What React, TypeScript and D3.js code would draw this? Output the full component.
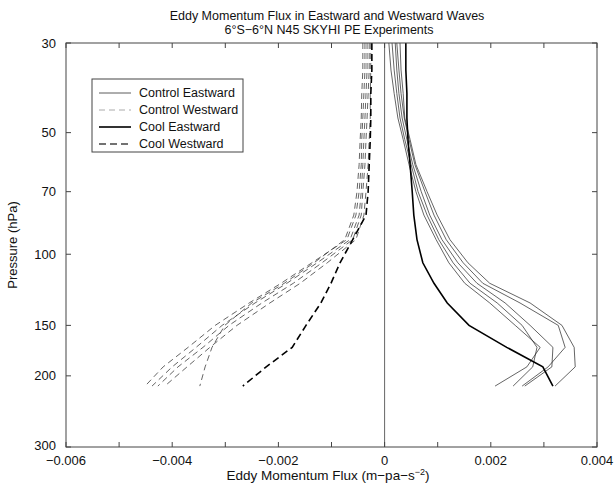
import React from "react";
import * as d3 from "d3";

// pressure levels (hPa)
const pressure = [30, 35, 40, 46, 52, 60, 70, 80, 92, 105, 118, 132, 150, 170, 190, 212];

// Control runs (5 members)
const controlEastward = [
  [0.00029, 0.00031, 0.00035, 0.00038, 0.00048, 0.00059, 0.0008, 0.00099, 0.00123, 0.00157, 0.00198, 0.00274, 0.00334, 0.00357, 0.00359, 0.00321],
  [0.00023, 0.00027, 0.00031, 0.00037, 0.00046, 0.00057, 0.00076, 0.00093, 0.00116, 0.00148, 0.00185, 0.00255, 0.00327, 0.0034, 0.00308, 0.00259],
  [0.0002, 0.00023, 0.00027, 0.00033, 0.00042, 0.00053, 0.00069, 0.00085, 0.00108, 0.00138, 0.00174, 0.00227, 0.00274, 0.00317, 0.00315, 0.00264],
  [0.00014, 0.00018, 0.00023, 0.00029, 0.00038, 0.0005, 0.00063, 0.0008, 0.00102, 0.00129, 0.00161, 0.00212, 0.00259, 0.00287, 0.00279, 0.00242],
  [0.00008, 0.00012, 0.00018, 0.00025, 0.00035, 0.00046, 0.00059, 0.00074, 0.00097, 0.00121, 0.00151, 0.00198, 0.00246, 0.00293, 0.00268, 0.00208],
];

const controlWestward = [
  [-0.00026, -0.00026, -0.00027, -0.00027, -0.00029, -0.00031, -0.00035, -0.00039, -0.00054, -0.00108, -0.00159, -0.00216, -0.00278, -0.00329, -0.00372, -0.00414],
  [-0.00029, -0.00029, -0.00031, -0.00033, -0.00035, -0.00037, -0.00041, -0.00044, -0.0006, -0.00118, -0.00172, -0.00231, -0.00293, -0.00342, -0.00389, -0.00427],
  [-0.00033, -0.00033, -0.00035, -0.00037, -0.00039, -0.00041, -0.00044, -0.00048, -0.00065, -0.00127, -0.00184, -0.00244, -0.00306, -0.00355, -0.004, -0.00438],
  [-0.00037, -0.00037, -0.00039, -0.00041, -0.00043, -0.00044, -0.00048, -0.00054, -0.00071, -0.00137, -0.00195, -0.00255, -0.00319, -0.0037, -0.00417, -0.00451],
  [-0.00041, -0.00041, -0.00043, -0.00044, -0.00046, -0.00048, -0.00052, -0.00058, -0.00075, -0.00133, -0.00189, -0.0025, -0.00301, -0.00325, -0.00338, -0.00348],
];

const coolEastward = [0.0004, 0.0004, 0.00042, 0.00042, 0.00044, 0.00048, 0.00052, 0.00055, 0.00061, 0.00072, 0.00093, 0.00118, 0.00159, 0.0023, 0.00298, 0.00317];
const coolWestward = [-0.00024, -0.00024, -0.00026, -0.00026, -0.00027, -0.00029, -0.00031, -0.00035, -0.0006, -0.00084, -0.00101, -0.0012, -0.00148, -0.00174, -0.00223, -0.00267];

const xTicks = [-0.006, -0.005, -0.004, -0.003, -0.002, -0.001, 0, 0.001, 0.002, 0.003, 0.004];
const xLabels = [-0.006, -0.004, -0.002, 0, 0.002, 0.004];
const yTicks = [30, 50, 70, 100, 150, 200, 300];

const legendItems = ["Control Eastward", "Control Westward", "Cool Eastward", "Cool Westward"];

const font = "'Liberation Sans', Arial, Helvetica, sans-serif";

export default function App() {
  const left = 66, right = 597, top = 43, bottom = 447;
  const x = d3.scaleLinear().domain([-0.006, 0.004]).range([left, right]);
  const y = d3.scaleLog().domain([30, 300]).range([top, bottom]);

  const line = d3
    .line<number>()
    .x((d) => x(d))
    .y((d, i) => y(pressure[i]));

  const fmt = (v: number) => (v === 0 ? "0" : v.toFixed(3).replace("-", "\u2212"));

  // legend styles
  const legStyles = [
    { stroke: "#333", width: 0.8, dash: "none" },
    { stroke: "#aaa", width: 1, dash: "6,4" },
    { stroke: "#000", width: 1.6, dash: "none" },
    { stroke: "#444", width: 1.6, dash: "7,4" },
  ];

  return (
    <svg
      width={616}
      height={491}
      style={{ position: "absolute", left: 0, top: 0, background: "#fff" }}
      fontFamily={font}
    >
      <rect width={616} height={491} fill="#fff" />

      {/* title */}
      <text x={327} y={20} textAnchor="middle" fontSize={12.5} fill="#111">
        Eddy Momentum Flux in Eastward and Westward Waves
      </text>
      <text x={329} y={34} textAnchor="middle" fontSize={12.5} fill="#111">
        6°S−6°N N45 SKYHI PE Experiments
      </text>

      {/* data lines */}
      {controlWestward.map((s, i) => (
        <path key={"cw" + i} d={line(s) || ""} fill="none" stroke="#222" strokeWidth={0.7} strokeDasharray="6,4" />
      ))}
      {controlEastward.map((s, i) => (
        <path key={"ce" + i} d={line(s) || ""} fill="none" stroke="#222" strokeWidth={0.7} />
      ))}
      <path d={line(coolWestward) || ""} fill="none" stroke="#000" strokeWidth={1.6} strokeDasharray="7,4" />
      <path d={line(coolEastward) || ""} fill="none" stroke="#000" strokeWidth={1.6} />

      {/* zero line */}
      <line x1={x(0)} x2={x(0)} y1={top} y2={bottom} stroke="#555" strokeWidth={0.9} />

      {/* frame */}
      <rect x={left} y={top} width={right - left} height={bottom - top} fill="none" stroke="#444" strokeWidth={1} />

      {/* x ticks */}
      {xTicks.map((t) => (
        <g key={"xt" + t}>
          <line x1={x(t)} x2={x(t)} y1={bottom} y2={bottom - 5} stroke="#444" />
          <line x1={x(t)} x2={x(t)} y1={top} y2={top + 5} stroke="#444" />
        </g>
      ))}
      {xLabels.map((t) => (
        <text key={"xl" + t} x={x(t)} y={465} textAnchor="middle" fontSize={13} fill="#111">
          {fmt(t)}
        </text>
      ))}

      {/* y ticks */}
      {yTicks.map((t) => (
        <g key={"yt" + t}>
          <line x1={left} x2={left + 5} y1={y(t)} y2={y(t)} stroke="#444" />
          <line x1={right} x2={right - 5} y1={y(t)} y2={y(t)} stroke="#444" />
          <text x={56} y={t === 300 ? y(t) - 2 : y(t)} dy="0.35em" textAnchor="end" fontSize={13} fill="#111">
            {t}
          </text>
        </g>
      ))}

      {/* axis labels */}
      <text x={328} y={480} textAnchor="middle" fontSize={13.5} fill="#111">
        Eddy Momentum Flux (m−pa−s<tspan dy={-5} fontSize={9}>−2</tspan>
        <tspan dy={5}>)</tspan>
      </text>
      <text transform="translate(17,245) rotate(-90)" textAnchor="middle" fontSize={13} fill="#111">
        Pressure (hPa)
      </text>

      {/* legend */}
      <rect x={92} y={79} width={151} height={73} fill="#fff" stroke="#444" strokeWidth={1} />
      {legendItems.map((name, i) => {
        const ly = 93 + i * 17;
        const st = legStyles[i];
        return (
          <g key={name}>
            <line x1={99} x2={131} y1={ly} y2={ly} stroke={st.stroke} strokeWidth={st.width} strokeDasharray={st.dash} />
            <text x={139} y={ly} dy="0.35em" fontSize={12.5} fill="#111">
              {name}
            </text>
          </g>
        );
      })}
    </svg>
  );
}
